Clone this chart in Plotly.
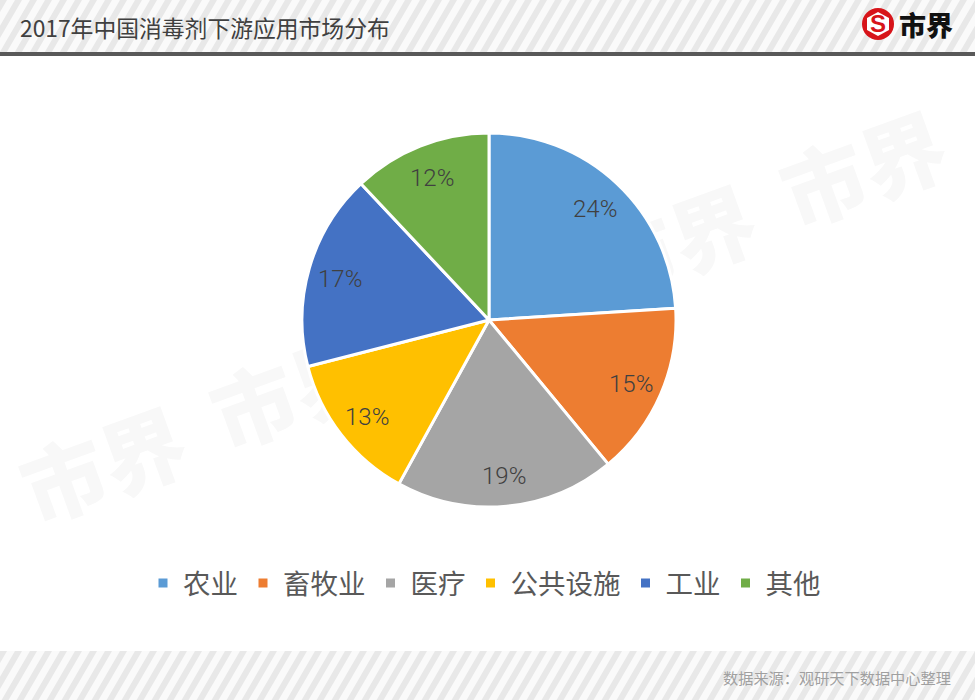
import math
import plotly.graph_objects as go

# --- datos ---
categorias = ["农业", "畜牧业", "医疗", "公共设施", "工业", "其他"]
porcentajes = [24, 15, 19, 13, 17, 12]
colores = ["#5B9BD5", "#ED7D31", "#A5A5A5", "#FFC000", "#4472C4", "#70AD47"]
titulo = "2017年中国消毒剂下游应用市场分布"
fuente = "数据来源\uff1a观研天下数据中心整理"
marca = "市界"

W, H = 975, 700
CJK = "Noto Sans CJK SC"
CX, CY = 489, 320  # centro de la torta en pixeles
R_ETIQUETA = 155


# pixeles de la imagen -> coordenadas paper
def px_x(x):
    return x / W


def px_y(y):
    return 1 - y / H


def rect(x0, y0, x1, y1, color, layer="below"):
    return dict(type="rect", xref="paper", yref="paper", layer=layer,
                x0=px_x(x0), x1=px_x(x1), y0=px_y(y0), y1=px_y(y1),
                fillcolor=color, line_width=0)


def rayas(y0, y1, paso=15, ancho=7, color="#E8E8E8"):
    """Franjas diagonales de las bandas superior e inferior."""
    dx = (y1 - y0) * 0.58
    d = ""
    x = -dx
    while x < W:
        d += (f"M{px_x(x):.5f},{px_y(y1):.5f}L{px_x(x + dx):.5f},{px_y(y0):.5f}"
              f"L{px_x(x + dx + ancho):.5f},{px_y(y0):.5f}L{px_x(x + ancho):.5f},{px_y(y1):.5f}Z")
        x += paso
    return dict(type="path", xref="paper", yref="paper", layer="below", path=d,
                fillcolor=color, line_width=0)


def marca_agua(cx, cy):
    return dict(type="rect", xref="paper", yref="paper", layer="below",
                x0=px_x(cx - 100), x1=px_x(cx + 100), y0=px_y(cy + 60), y1=px_y(cy - 60),
                fillcolor="rgba(0,0,0,0)", line_width=0,
                label=dict(text=marca, textangle=-20, textposition="middle center",
                           font=dict(family=CJK, size=84, weight=900, color="#F8F8F8")))


def etiquetas_porcentaje():
    """Texto de cada porcion, sobre el angulo medio calculado desde los valores."""
    total = sum(porcentajes)
    acumulado = 0
    salida = []
    for v in porcentajes:
        ang = 2 * math.pi * (acumulado + v / 2) / total
        acumulado += v
        salida.append(dict(
            text=f"{v}%", x=px_x(CX + R_ETIQUETA * math.sin(ang)),
            y=px_y(CY - R_ETIQUETA * math.cos(ang) + 2),
            xref="paper", yref="paper", xanchor="center", yanchor="middle", showarrow=False,
            font=dict(family="Roboto", size=24, weight=300, color="#404040")))
    return salida


formas = [rect(0, 0, W, 52, "#FAFAFA"), rayas(0, 52),
          rect(0, 651, W, 700, "#FAFAFA"), rayas(651, 700),
          rect(0, 52, W, 56, "#595959")]
for cx, cy in [(107, 474), (297, 400), (487, 326), (677, 252), (867, 178)]:
    formas.append(marca_agua(cx, cy))

# logo: circulo rojo, hexagono blanco y la S
formas.append(dict(type="circle", xref="paper", yref="paper", layer="above",
                   x0=px_x(862), x1=px_x(894), y0=px_y(40), y1=px_y(8),
                   fillcolor="#D7141A", line_width=0))
hexagono = [(878, 12), (889, 18), (889, 30), (878, 36), (867, 30), (867, 18)]
formas.append(dict(type="path", xref="paper", yref="paper", layer="above",
                   path="M" + "L".join(f"{px_x(a):.5f},{px_y(b):.5f}" for a, b in hexagono) + "Z",
                   fillcolor="white", line_width=0))

fig = go.Figure(go.Pie(
    labels=categorias,
    values=porcentajes,
    sort=False,
    direction="clockwise",
    rotation=0,
    marker=dict(colors=colores, line=dict(color="white", width=3)),
    textinfo="none",
    domain=dict(x=[px_x(CX - 187), px_x(CX + 187)], y=[px_y(CY + 187), px_y(CY - 187)]),
    hoverinfo="label+percent",
))

fig.update_layout(
    width=W, height=H,
    margin=dict(l=0, r=0, t=0, b=0),
    paper_bgcolor="white",
    font=dict(family=CJK),
    shapes=formas,
    legend=dict(orientation="h", x=px_x(W / 2 - 3), xanchor="center", y=px_y(583), yanchor="middle",
                font=dict(family=CJK, size=27.5, color="#595959"),
                itemwidth=30, bgcolor="rgba(0,0,0,0)"),
    annotations=[
        dict(text=titulo, x=px_x(18), y=px_y(27), xref="paper", yref="paper",
             xanchor="left", yanchor="middle", showarrow=False,
             font=dict(family=CJK, size=22.8, color="#404040")),
        dict(text=marca, x=px_x(926), y=px_y(25), xref="paper", yref="paper",
             xanchor="center", yanchor="middle", showarrow=False,
             font=dict(family=CJK, size=27, weight=900, color="#111111")),
        dict(text="<b>S</b>", x=px_x(878), y=px_y(24), xref="paper", yref="paper",
             xanchor="center", yanchor="middle", showarrow=False,
             font=dict(family="Liberation Sans", size=24, color="#D7141A")),
        dict(text=fuente, x=px_x(953), y=px_y(677), xref="paper", yref="paper",
             xanchor="right", yanchor="middle", showarrow=False,
             font=dict(family=CJK, size=15.2, color="#A0A0A0")),
    ] + etiquetas_porcentaje(),
)

fig.write_html("out.html", config={"displayModeBar": False},
               post_script="document.body.style.margin='0';")
